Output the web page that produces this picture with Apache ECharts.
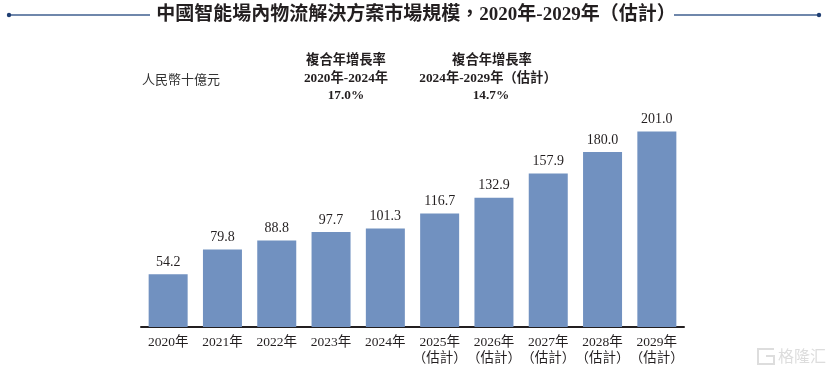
<!DOCTYPE html>
<html>
<head>
<meta charset="utf-8">
<title>中國智能場內物流解決方案市場規模</title>
<script src="https://cdn.jsdelivr.net/npm/echarts@6/dist/echarts.min.js"></script>
<style>
html, body { margin: 0; padding: 0; background: #fff; }
#chart { width: 831px; height: 373px; }
</style>
</head>
<body>
<div id="chart"></div>
<script>
//类目和数值
var categories = ['2020年', '2021年', '2022年', '2023年', '2024年',
	'2025年\n（估計）', '2026年\n（估計）', '2027年\n（估計）', '2028年\n（估計）', '2029年\n（估計）'];
var marketSize = [54.2, 79.8, 88.8, 97.7, 101.3, 116.7, 132.9, 157.9, 180.0, 201.0];
var titleText = '中國智能場內物流解決方案市場規模，2020年-2029年（估計）';
var unitText = '人民幣十億元';
var cagrLeft = ['複合年增長率', '2020年-2024年', '17.0%'];
var cagrRight = ['複合年增長率', '2024年-2029年（估計）', '14.7%'];
var watermarkText = '格隆汇';

var fontFamily = '"Liberation Serif", "Noto Sans CJK TC", serif';

//生成一行居中文字
function centerText(text, x, y, font, fill) {
	return {
		type: 'text', x: x, y: y,
		style: { text: text, fill: fill, font: font, textAlign: 'center', textVerticalAlign: 'middle' }
	};
}

var cagrFont = 'bold 13.3px ' + fontFamily;
var chart = echarts.init(document.getElementById('chart'));

chart.setOption({
	backgroundColor: '#fff',
	animation: false,
	grid: { left: 141, right: 147, top: 113, bottom: 46 },
	xAxis: {
		type: 'category',
		data: categories,
		axisLine: { lineStyle: { color: '#231f20', width: 2 } },
		axisTick: { show: false },
		axisLabel: {
			interval: 0,
			color: '#231f20',
			fontFamily: fontFamily,
			fontSize: 13.5,
			lineHeight: 16,
			margin: 7
		}
	},
	yAxis: { type: 'value', min: 0, max: 220, show: false },
	series: [{
		type: 'bar',
		data: marketSize,
		barWidth: 39,
		itemStyle: { color: '#7191c0' },
		label: {
			show: true,
			position: 'top',
			distance: 5,
			color: '#231f20',
			fontFamily: fontFamily,
			fontSize: 14,
			formatter: function(p) { return p.value.toFixed(1); }
		}
	}],
	graphic: [
		//标题两侧的线和端点
		{ type: 'line', shape: { x1: 9, y1: 15, x2: 150, y2: 15 }, style: { stroke: '#3f5f8f', lineWidth: 1.5 } },
		{ type: 'line', shape: { x1: 674, y1: 15, x2: 819, y2: 15 }, style: { stroke: '#3f5f8f', lineWidth: 1.5 } },
		{ type: 'circle', shape: { cx: 9, cy: 15, r: 2.2 }, style: { fill: '#1f3f73' } },
		{ type: 'circle', shape: { cx: 819, cy: 15, r: 2.2 }, style: { fill: '#1f3f73' } },
		centerText(titleText, 416, 15, 'bold 19px ' + fontFamily, '#231f20'),
		centerText(unitText, 181, 81, '13px ' + fontFamily, '#333'),
		centerText(cagrLeft[0], 346, 61, cagrFont, '#231f20'),
		centerText(cagrLeft[1], 346, 79, cagrFont, '#231f20'),
		centerText(cagrLeft[2], 346, 96, cagrFont, '#231f20'),
		centerText(cagrRight[0], 492, 61, cagrFont, '#231f20'),
		centerText(cagrRight[1], 488, 79, cagrFont, '#231f20'),
		centerText(cagrRight[2], 491, 96, cagrFont, '#231f20'),
		//水印图标
		{ type: 'polyline', shape: { points: [[774, 349], [758, 349], [758, 364], [774, 364], [774, 356], [766, 356]] }, style: { fill: 'none', stroke: '#dddddd', lineWidth: 2 } },
		{
			type: 'text', x: 778, y: 356,
			style: { text: watermarkText, fill: '#dddddd', font: '16px "Noto Sans CJK SC", sans-serif', textVerticalAlign: 'middle' }
		}
	]
});
</script>
</body>
</html>
